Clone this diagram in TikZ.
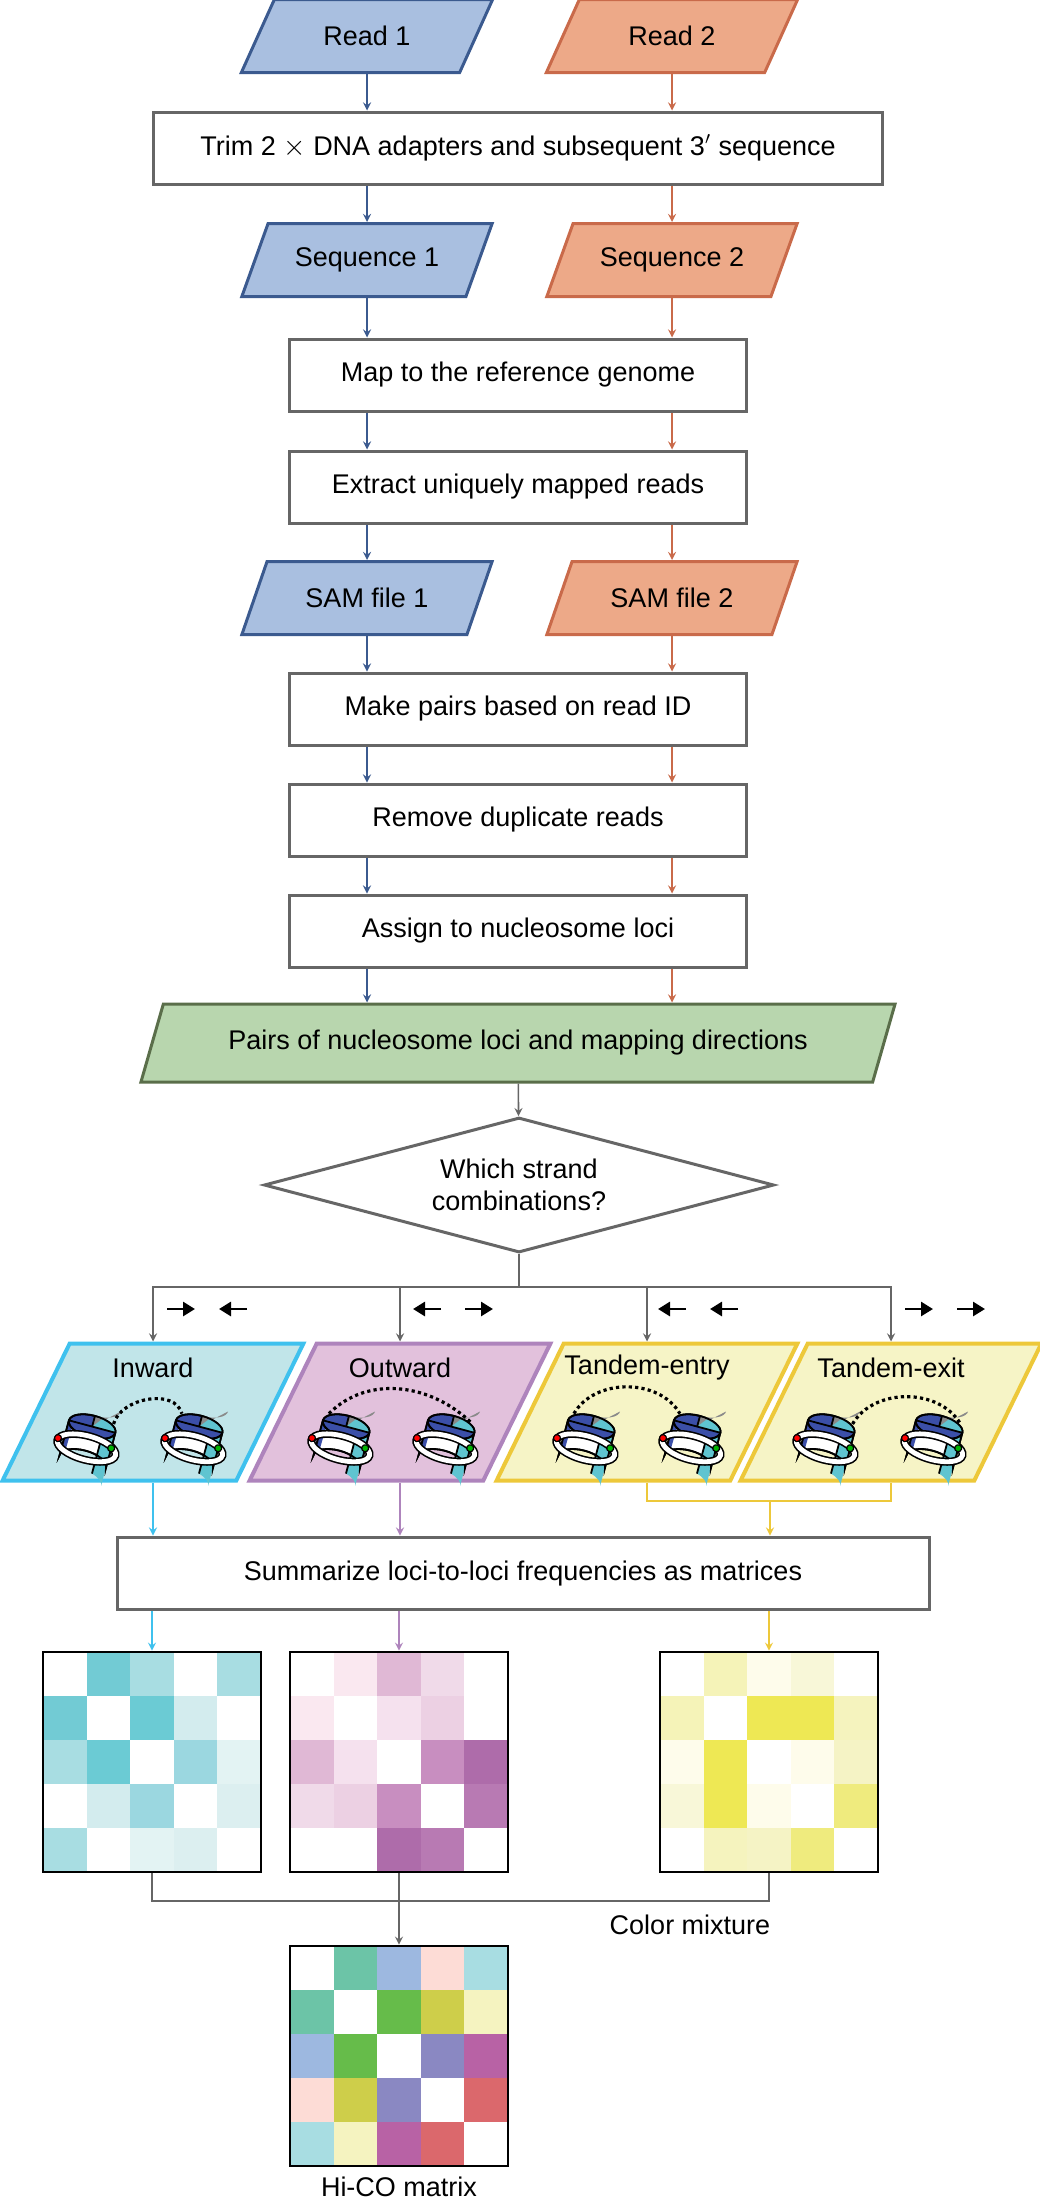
\documentclass[tikz,border=0pt]{standalone}
\usepackage{fontspec}
\setmainfont{Liberation Sans}
\usetikzlibrary{shapes.geometric,calc,arrows.meta}
\definecolor{rdfill}{HTML}{A9BFE0}\definecolor{rdline}{HTML}{3B5A8F}
\definecolor{orfill}{HTML}{EDA988}\definecolor{orline}{HTML}{C96A4A}
\definecolor{grfill}{HTML}{B8D6AE}\definecolor{grline}{HTML}{5A6E4A}
\definecolor{boxline}{HTML}{666666}
\definecolor{infill}{HTML}{C1E5E9}\definecolor{inline}{HTML}{3FC1EE}
\definecolor{oufill}{HTML}{E2C1DC}\definecolor{ouline}{HTML}{AE84BC}
\definecolor{tafill}{HTML}{F6F4C6}\definecolor{taline}{HTML}{EDC83A}
\definecolor{nucblue}{HTML}{3B4FA8}\definecolor{nucteal}{HTML}{5FC4D0}
\definecolor{nucgray}{HTML}{8A8A8A}

\newcommand{\heatmap}[4]{%
  \foreach \c [count=\k from 0] in {#4} {
    \pgfmathtruncatemacro\rr{int(\k/5)}
    \pgfmathtruncatemacro\qq{mod(\k,5)}
    \definecolor{cellc}{HTML}{\c}
    \fill[cellc] (#2-109+\qq*43.6,#3-110+\rr*44) rectangle ++(43.6,44);
  }
  \node[mat] (#1) at (#2,#3) {};
}
% strand direction glyphs: #1 x, #2 y, #3/#4 direction of first/second arrow (1 right, -1 left)
\newcommand{\strands}[4]{%
  \draw[sarr] (#1-40+14-#3*14,#2) -- ++(#3*28,0);
  \draw[sarr] (#1+12+14-#4*14,#2) -- ++(#4*28,0);
}

\begin{document}
\begin{tikzpicture}[x=0.5pt,y=-0.5pt,>=stealth,font=\fontsize{13.5}{16}\selectfont,
  io/.style={trapezium,trapezium left angle=52,trapezium right angle=128,trapezium stretches=true,
    minimum width=126pt,minimum height=36.5pt,inner sep=0pt,line width=1.5pt},
  rd/.style={io,fill=rdfill,draw=rdline},
  orng/.style={io,fill=orfill,draw=orline},
  stage/.style={rectangle,draw=boxline,line width=1.5pt,minimum height=36pt,inner sep=0pt},
  kind/.style={trapezium,trapezium left angle=64,trapezium right angle=116,trapezium stretches=true,
    minimum width=150.5pt,minimum height=68.5pt,inner sep=0pt,line width=2pt},
  mat/.style={draw=black,line width=1.3pt,minimum width=109pt,minimum height=110pt,inner sep=0pt},
  bl/.style={->,rdline,line width=0.8pt},
  og/.style={->,orline,line width=0.8pt},
  gy/.style={boxline,line width=0.8pt},
  sarr/.style={-{Triangle[length=6pt,width=7pt]},line width=1.4pt},
  dots/.style={line width=1.6pt,dash pattern=on 1.6pt off 1.6pt},
  nuc/.pic={
    \begin{scope}[rotate=-15,line width=0.9pt]
      \filldraw[fill=white] (-24,-16) -- (-24,20) arc[start angle=180,end angle=360,x radius=24,y radius=11] -- (24,-16) -- cycle;
      \fill[nucblue] (-24,-16) -- (-24,20) arc[start angle=180,end angle=215,x radius=24,y radius=11] -- (-19,-16) -- cycle;
      \fill[nucteal] (12,-16) -- (12,29.5) arc[start angle=300,end angle=360,x radius=24,y radius=11] -- (24,-16) -- cycle;
      \draw (-24,-16) -- (-24,20) arc[start angle=180,end angle=360,x radius=24,y radius=11] -- (24,-16);
      \draw (12,-16) -- (12,29.5);
      \filldraw[fill=nucblue] (0,-16) ellipse[x radius=24,y radius=11];
      \fill[nucgray] (0,-16) -- (0,-27) arc[start angle=90,end angle=0,x radius=24,y radius=11] -- cycle;
      \fill[nucteal] (0,-16) -- (24,-16) arc[start angle=0,end angle=-70,x radius=24,y radius=11] -- cycle;
      \draw (0,-16) ellipse[x radius=24,y radius=11];
      \draw (0,-16) -- (0,-27) (0,-16) -- (24,-16) (0,-16) -- (-24,-16);
      \draw[line width=4pt] (0,6) ellipse[x radius=30,y radius=12];
      \draw[white,line width=2.4pt] (0,6) ellipse[x radius=30,y radius=12];
      \filldraw[fill=red,line width=0.6pt] (-30,4) circle (3.5);
      \filldraw[fill=green!70!black,line width=0.6pt] (24,0) circle (3.5);
      \coordinate (-tl) at (-20,-24);
      \coordinate (-tr) at (20,-24);
    \end{scope}
  }]
\useasboundingbox (0,0) rectangle (1039,2201);

% input reads
\node[rd] (read1) at (367,36) {Read 1};
\node[orng] (read2) at (672,36) {Read 2};
\node[stage,minimum width=364.5pt] (trim) at (518,148) {Trim 2 $\times$ DNA adapters and subsequent 3$'$ sequence};
\node[rd] (seq1) at (367,260) {Sequence 1};
\node[orng] (seq2) at (672,260) {Sequence 2};
\node[stage,minimum width=228.5pt] (map) at (518,375) {Map to the reference genome};
\node[stage,minimum width=228.5pt] (uniq) at (518,487) {Extract uniquely mapped reads};
\node[rd] (sam1) at (367,598) {SAM file 1};
\node[orng] (sam2) at (672,598) {SAM file 2};
\node[stage,minimum width=228.5pt] (pairs) at (518,709) {Make pairs based on read ID};
\node[stage,minimum width=228.5pt] (dedup) at (518,820) {Remove duplicate reads};
\node[stage,minimum width=228.5pt] (assign) at (518,931) {Assign to nucleosome loci};
\node[io,trapezium left angle=54,trapezium right angle=126,minimum width=378.5pt,minimum height=39pt,
  fill=grfill,draw=grline] (locus) at (518,1043) {Pairs of nucleosome loci and mapping directions};
\node[diamond,draw=boxline,line width=1.5pt,aspect=3.8,minimum width=255pt,minimum height=67.5pt,inner sep=0pt,
  align=center] (strand) at (519,1185) {Which strand\\combinations?};

% two columns of arrows
\foreach \a/\b in {read1/trim,trim/seq1,seq1/map,map/uniq,uniq/sam1,sam1/pairs,pairs/dedup,dedup/assign,assign/locus}
  \draw[bl] (\a.south -| 367,0) -- (\b.north -| 367,0);
\foreach \a/\b in {read2/trim,trim/seq2,seq2/map,map/uniq,uniq/sam2,sam2/pairs,pairs/dedup,dedup/assign,assign/locus}
  \draw[og] (\a.south -| 672,0) -- (\b.north -| 672,0);
\draw[gy,->] (locus) -- (strand);

% strand combinations
\node[kind,fill=infill,draw=inline] (inward) at (153,1412) {\phantom{M}};
\node[kind,fill=oufill,draw=ouline] (outward) at (400,1412) {\phantom{M}};
\node[kind,fill=tafill,draw=taline] (entry) at (647,1412) {\phantom{M}};
\node[kind,fill=tafill,draw=taline] (exit) at (891,1412) {\phantom{M}};
\coordinate (fork) at (519,1287);
\draw[gy] (strand.south) -- (fork);
\foreach \k in {inward,outward,entry,exit}
  \draw[gy,->] (fork) -| (\k.north);
\strands{207}{1309}{1}{-1}
\strands{453}{1309}{-1}{1}
\strands{698}{1309}{-1}{-1}
\strands{945}{1309}{1}{1}
\node at (153,1368) {Inward};
\node at (400,1368) {Outward};
\node at (647,1368) {Tandem-entry};
\node at (891,1368) {Tandem-exit};

\pic (i1) at (88,1442) {nuc};  \pic (i2) at (195,1442) {nuc};
\pic (o1) at (342,1442) {nuc}; \pic (o2) at (447,1442) {nuc};
\pic (e1) at (587,1442) {nuc}; \pic (e2) at (693,1442) {nuc};
\pic (x1) at (827,1442) {nuc}; \pic (x2) at (935,1442) {nuc};
\draw[dots] (i1-tr) to[out=75,in=105] (i2-tl);
\draw[dots] (o1-tl) to[out=45,in=135] (o2-tr);
\draw[dots] (e1-tl) to[out=60,in=120] (e2-tl);
\draw[dots] (x1-tr) to[out=60,in=120] (x2-tr);

% matrices
\node[stage,minimum width=406pt] (summ) at (523,1573) {Summarize loci-to-loci frequencies as matrices};
\coordinate (tandem) at (770,1501);
\draw[->,inline,line width=0.8pt] (inward.south -| 153,0) -- (summ.north -| 153,0);
\draw[->,ouline,line width=0.8pt] (outward.south -| 400,0) -- (summ.north -| 400,0);
\draw[taline,line width=0.8pt] (entry.south) |- (tandem) -| (exit.south);
\draw[->,taline,line width=0.8pt] (tandem) -- (summ.north -| tandem);

\heatmap{cyanmat}{152}{1762}{FFFFFF,72CBD4,A8DDE2,FFFFFF,A8DDE2,
  72CBD4,FFFFFF,6BCBD4,D3ECEE,FFFFFF,
  A8DDE2,6BCBD4,FFFFFF,9BD7E0,E3F3F3,
  FFFFFF,D3ECEE,9BD7E0,FFFFFF,DCEFF0,
  A8DDE2,FFFFFF,E3F3F3,DCEFF0,FFFFFF}
\heatmap{purpmat}{399}{1762}{FFFFFF,FAE8F0,E0B8D5,F0DAE9,FFFFFF,
  FAE8F0,FFFFFF,F5E1EE,ECD0E3,FFFFFF,
  E0B8D5,F5E1EE,FFFFFF,C88EC0,AE6CAA,
  F0DAE9,ECD0E3,C88EC0,FFFFFF,B87AB3,
  FFFFFF,FFFFFF,AE6CAA,B87AB3,FFFFFF}
\heatmap{yellmat}{769}{1762}{FFFFFF,F5F3B8,FEFCEB,F8F7D8,FFFFFF,
  F5F3B8,FFFFFF,EEE854,EEE854,F5F3BE,
  FEFCEB,EEE854,FFFFFF,FEFCEB,F5F3C5,
  F8F7D8,EEE854,FEFCEB,FFFFFF,EFEB7E,
  FFFFFF,F5F3BE,F5F3C5,EFEB7E,FFFFFF}
\heatmap{hico}{399}{2056}{FFFFFF,6CC4A7,9DB8E0,FDDCD6,A8DDE2,
  6CC4A7,FFFFFF,66BC4A,CECE4A,F5F3C0,
  9DB8E0,66BC4A,FFFFFF,8A88C2,B862A5,
  FDDCD6,CECE4A,8A88C2,FFFFFF,DB686C,
  A8DDE2,F5F3C0,B862A5,DB686C,FFFFFF}

\draw[->,inline,line width=0.8pt] (summ.south -| cyanmat) -- (cyanmat.north);
\draw[->,ouline,line width=0.8pt] (summ.south -| purpmat) -- (purpmat.north);
\draw[->,taline,line width=0.8pt] (summ.south -| yellmat) -- (yellmat.north);

\coordinate (mix) at (399,1901);
\draw[gy] (cyanmat.south) |- (mix) -| (yellmat.south);
\draw[gy,->] (purpmat.south) -- (hico.north);
\node at (690,1925) {Color mixture};
\node at (399,2187) {Hi-CO matrix};
\end{tikzpicture}
\end{document}
